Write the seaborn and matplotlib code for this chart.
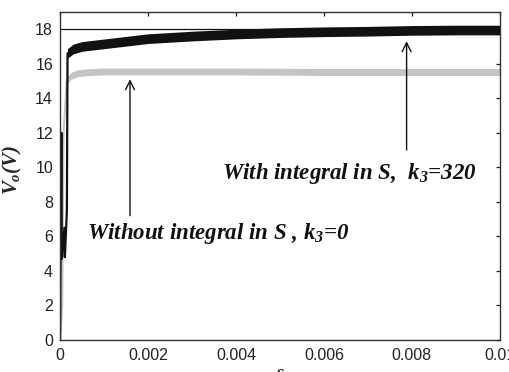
import matplotlib
matplotlib.use("Agg")
import matplotlib.pyplot as plt
import numpy as np
import pandas as pd
import seaborn as sns

# Start-up transient of the output voltage (s, V)
t_start_with = [0.0, 0.00003, 0.00004, 0.00010, 0.00011, 0.000155, 0.00017]
v_start_with = [0.0, 12.0, 4.7, 6.5, 4.8, 7.5, 16.6]
t_start_without = [0.0, 0.00005, 0.00008, 0.00015]
v_start_without = [0.0, 2.0, 12.0, 15.0]

# Steady part: mean output voltage and ripple half-amplitude
t_with = [0.00017, 0.0003, 0.0005, 0.001, 0.0015, 0.002, 0.003, 0.004,
          0.005, 0.006, 0.007, 0.008, 0.009, 0.01]
v_with = [16.6, 16.85, 17.0, 17.15, 17.3, 17.45, 17.6, 17.72,
          17.8, 17.85, 17.88, 17.93, 17.95, 17.95]
ripple_with = [0.28] * len(t_with)

t_without = [0.00015, 0.00025, 0.0004, 0.0006, 0.001, 0.002, 0.004,
             0.006, 0.008, 0.01]
v_without = [15.0, 15.3, 15.45, 15.5, 15.55, 15.55, 15.55, 15.52, 15.52, 15.52]
ripple_without = [0.2] * len(t_without)

reference_level = 18.0

x_ticks = [0, 0.002, 0.004, 0.006, 0.008, 0.01]
x_tick_labels = ["0", "0.002", "0.004", "0.006", "0.008", "0.01"]
y_ticks = list(range(0, 19, 2))

label_with = r"With integral in S,  k$_3$=320"
label_without = r"Without integral in S , k$_3$=0"

sns.set_theme(style="white")
plt.rcParams["font.family"] = ["Liberation Sans", "DejaVu Sans"]
plt.rcParams["mathtext.fontset"] = "custom"
plt.rcParams["mathtext.rm"] = "Liberation Serif:bold:italic"
plt.rcParams["mathtext.it"] = "Liberation Serif:bold:italic"
plt.rcParams["mathtext.bf"] = "Liberation Serif:bold:italic"

fig = plt.figure(figsize=(5.09, 3.72), dpi=100)
ax = fig.add_axes([0.118, 0.086, 0.864, 0.882])

black = "#111111"
grey = "#c4c4c4"

# Without integral action (grey)
df_wo = pd.DataFrame({"t": t_start_without + t_without,
                      "v": v_start_without + v_without})
sns.lineplot(data=df_wo, x="t", y="v", ax=ax, color=grey, lw=1.4,
             sort=False, estimator=None)
tw = np.array(t_without)
vw = np.array(v_without)
rw = np.array(ripple_without)
ax.fill_between(tw, vw - rw, vw + rw, color=grey, lw=0)

# With integral action (black)
df_w = pd.DataFrame({"t": t_start_with + t_with,
                     "v": v_start_with + v_with})
sns.lineplot(data=df_w, x="t", y="v", ax=ax, color=black, lw=1.6,
             sort=False, estimator=None)
tk = np.array(t_with)
vk = np.array(v_with)
rk = np.array(ripple_with)
ax.fill_between(tk, vk - rk, vk + rk, color=black, lw=0)

ax.axhline(reference_level, color=black, lw=0.9)

ax.set_xlim(0, 0.01)
ax.set_ylim(0, 19)
ax.set_xticks(x_ticks)
ax.set_xticklabels(x_tick_labels)
ax.set_yticks(y_ticks)
ax.tick_params(direction="in", top=True, right=True, length=3, width=0.9,
               labelsize=11.5, colors="#222222", pad=5)
ax.tick_params(axis="x", pad=6)
for sp in ax.spines.values():
    sp.set_color("#333333")
    sp.set_linewidth(1.0)

ax.set_xlabel("s", fontfamily="Liberation Serif", fontweight="bold",
              fontsize=14)
ax.xaxis.set_label_coords(0.5, -0.075)
ax.set_ylabel(r"$V_o(V)$", fontsize=15)
ax.yaxis.set_label_coords(-0.082, 0.52)

text_kw = dict(fontfamily="Liberation Serif", fontweight="bold",
               fontstyle="italic", fontsize=16.5, color=black, va="center",
               ha="left")
ax.text(0.00368, 9.66, label_with, **text_kw)
ax.text(0.00062, 6.19, label_without, **text_kw)

arrow_kw = dict(arrowstyle="->", lw=1.0, color=black, mutation_scale=16,
                shrinkA=0, shrinkB=0)
ax.annotate("", xy=(0.00159, 15.1), xytext=(0.00159, 7.2),
            arrowprops=arrow_kw)
ax.annotate("", xy=(0.00788, 17.3), xytext=(0.00788, 11.0),
            arrowprops=arrow_kw)

fig.savefig("out.png", dpi=100)
